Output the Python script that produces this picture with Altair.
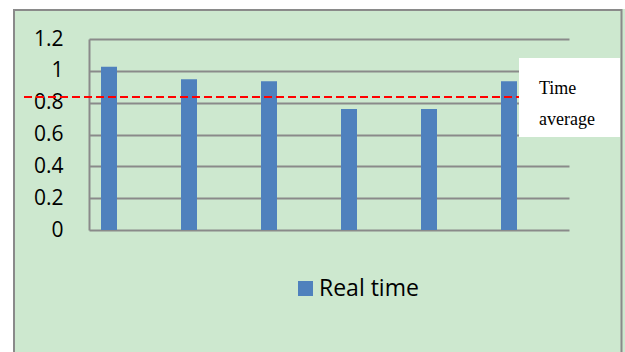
import altair as alt
import pandas as pd

# ---- data ----
categories = ["1", "2", "3", "4", "5", "6"]
real_time = [1.026, 0.947, 0.934, 0.76, 0.76, 0.934]
series_name = "Real time"
time_average = 0.835
y_ticks = [0, 0.2, 0.4, 0.6, 0.8, 1.0, 1.2]
note_text = "Time\naverage"

df = pd.DataFrame({"cat": categories, "value": real_time, "series": [series_name] * len(categories)})

W, H = 480, 191
GREEN = "#cde8cf"
GRID = "#8a8a8a"

one = alt.Data(values=[{}])

y_scale = alt.Scale(domain=[0, 1.2], nice=False)
y_axis = alt.Axis(values=y_ticks, format="~g", grid=True, gridColor=GRID,
                  gridWidth=2, domain=True, domainColor=GRID, domainWidth=2,
                  ticks=False, tickSize=0, labelPadding=26, labelOverlap=False,
                  tickCount=len(y_ticks),
                  labelFont="Open Sans", labelFontSize=21, labelColor="#000000")

# white margins outside the green chart frame
white_top = alt.Chart(one).mark_rect(fill="white", clip=False).encode(
    x=alt.value(-89), x2=alt.value(536), y=alt.value(-39), y2=alt.value(-30)
)
white_left = alt.Chart(one).mark_rect(fill="white", clip=False).encode(
    x=alt.value(-89), x2=alt.value(-76), y=alt.value(-39), y2=alt.value(313)
)
frame = alt.Chart(one).mark_rect(
    fill=None, fillOpacity=0, stroke="#8a8a8a", strokeWidth=2, clip=False
).encode(
    x=alt.value(-75), x2=alt.value(532.5), y=alt.value(-29), y2=alt.value(345)
)

bars = alt.Chart(df).mark_bar(clip=False).encode(
    x=alt.X("cat:N", sort=categories, axis=None,
            scale=alt.Scale(paddingInner=0.8, paddingOuter=0.4, align=0.1875)),
    y=alt.Y("value:Q", title=None, scale=y_scale, axis=y_axis),
    color=alt.Color("series:N", scale=alt.Scale(range=["#4f81bd"]),
                    legend=alt.Legend(title=None, orient="none", legendX=205, legendY=238,
                                      padding=0, symbolType="square", symbolSize=225,
                                      symbolStrokeWidth=0, labelOffset=2,
                                      labelFont="Open Sans", labelFontSize=23,
                                      labelColor="#000000", labelLimit=300)),
)

avg_rule = alt.Chart(alt.Data(values=[{"avg": time_average}])).mark_rule(
    color="#ff0000", strokeWidth=2, strokeDash=[8, 4], clip=False
).encode(
    y=alt.Y("avg:Q", title=None, scale=y_scale, axis=y_axis),
    x=alt.value(-65), x2=alt.value(430),
)

note_box = alt.Chart(one).mark_rect(fill="white", clip=False).encode(
    x=alt.value(430), x2=alt.value(531), y=alt.value(19), y2=alt.value(98)
)

note = alt.Chart(alt.Data(values=[{"t": note_text}])).mark_text(
    align="left", baseline="alphabetic", font="Liberation Serif", fontSize=18,
    lineBreak="\n", lineHeight=31, color="#000000", clip=False
).encode(
    text="t:N", x=alt.value(450), y=alt.value(55)
)

chart = alt.layer(white_top, white_left, frame, bars, avg_rule, note_box, note).properties(
    width=W, height=H,
    autosize=alt.AutoSizeParams(type="none"),
    padding={"left": 89, "top": 39, "right": 56, "bottom": 122},
    background=GREEN,
).configure_view(stroke=None)

chart.save("out.html", embed_options={"renderer": "svg", "actions": False})
